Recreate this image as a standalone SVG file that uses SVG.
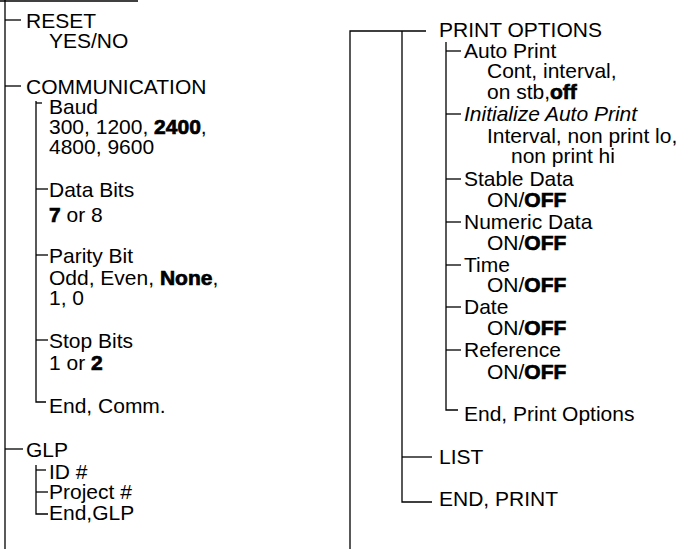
<svg xmlns="http://www.w3.org/2000/svg" width="683" height="549" viewBox="0 0 683 549">
<style>
text{font-family:"Liberation Sans",Arial,Helvetica,sans-serif;font-size:21px;fill:#000}
.b{font-weight:bold;stroke:#000;stroke-width:0.7px}
.i{font-style:italic}
#connectors path{stroke:#000;stroke-width:1.3;fill:none}
</style>
<rect width="683" height="549" fill="#fff"/>
<g id="connectors">
<path d="M0 1H138"/>
<path d="M5 0V549"/>
<path d="M5 20H21"/>
<path d="M5 86H21"/>
<path d="M36 101V402H46"/>
<path d="M36 103H42"/>
<path d="M36 189H48"/>
<path d="M36 255H48"/>
<path d="M36 340H48"/>
<path d="M5 449H23"/>
<path d="M36 465V514H48"/>
<path d="M36 470H46"/>
<path d="M36 492H48"/>
<path d="M350 549V31H426"/>
<path d="M402 31V502H432"/>
<path d="M402 457H432"/>
<path d="M446 42V410H458"/>
<path d="M446 51H461"/>
<path d="M446 114H461"/>
<path d="M446 179H461"/>
<path d="M446 222H461"/>
<path d="M446 265H461"/>
<path d="M446 307H461"/>
<path d="M446 350H461"/>
</g>
<g id="reset"><text x="26" y="28">RESET</text><text x="49" y="48">YES/NO</text></g>
<g id="communication"><text x="26" y="94">COMMUNICATION</text></g>
<g id="baud"><text x="49" y="114">Baud</text><text x="49" y="134">300, 1200, <tspan class="b">2400</tspan>,</text><text x="49" y="154">4800, 9600</text></g>
<g id="data-bits"><text x="49" y="197">Data Bits</text><text x="49" y="222"><tspan class="b">7</tspan> or 8</text></g>
<g id="parity-bit"><text x="49" y="263">Parity Bit</text><text x="49" y="285">Odd, Even, <tspan class="b">None</tspan>,</text><text x="49" y="305">1, 0</text></g>
<g id="stop-bits"><text x="49" y="348">Stop Bits</text><text x="49" y="370">1 or <tspan class="b">2</tspan></text></g>
<g id="end-comm"><text x="49" y="413">End, Comm.</text></g>
<g id="glp"><text x="26" y="457">GLP</text></g>
<g id="id"><text x="49" y="479">ID #</text></g>
<g id="project"><text x="49" y="499">Project #</text></g>
<g id="end-glp"><text x="49" y="520">End,GLP</text></g>
<g id="print-options"><text x="439" y="37">PRINT OPTIONS</text></g>
<g id="auto-print"><text x="464" y="58">Auto Print</text><text x="487" y="78">Cont, interval,</text><text x="487" y="99">on stb,<tspan class="b">off</tspan></text></g>
<g id="init-auto-print"><text class="i" x="464" y="121">Initialize Auto Print</text><text x="487" y="143">Interval, non print lo,</text><text x="511" y="163">non print hi</text></g>
<g id="stable-data"><text x="464" y="186">Stable Data</text><text x="487" y="207">ON/<tspan class="b">OFF</tspan></text></g>
<g id="numeric-data"><text x="464" y="229">Numeric Data</text><text x="487" y="250">ON/<tspan class="b">OFF</tspan></text></g>
<g id="time"><text x="464" y="272">Time</text><text x="487" y="292">ON/<tspan class="b">OFF</tspan></text></g>
<g id="date"><text x="464" y="314">Date</text><text x="487" y="335">ON/<tspan class="b">OFF</tspan></text></g>
<g id="reference"><text x="464" y="357">Reference</text><text x="487" y="379">ON/<tspan class="b">OFF</tspan></text></g>
<g id="end-print-options"><text x="464" y="421">End, Print Options</text></g>
<g id="list"><text x="439" y="464">LIST</text></g>
<g id="end-print"><text x="439" y="506">END, PRINT</text></g>
</svg>
